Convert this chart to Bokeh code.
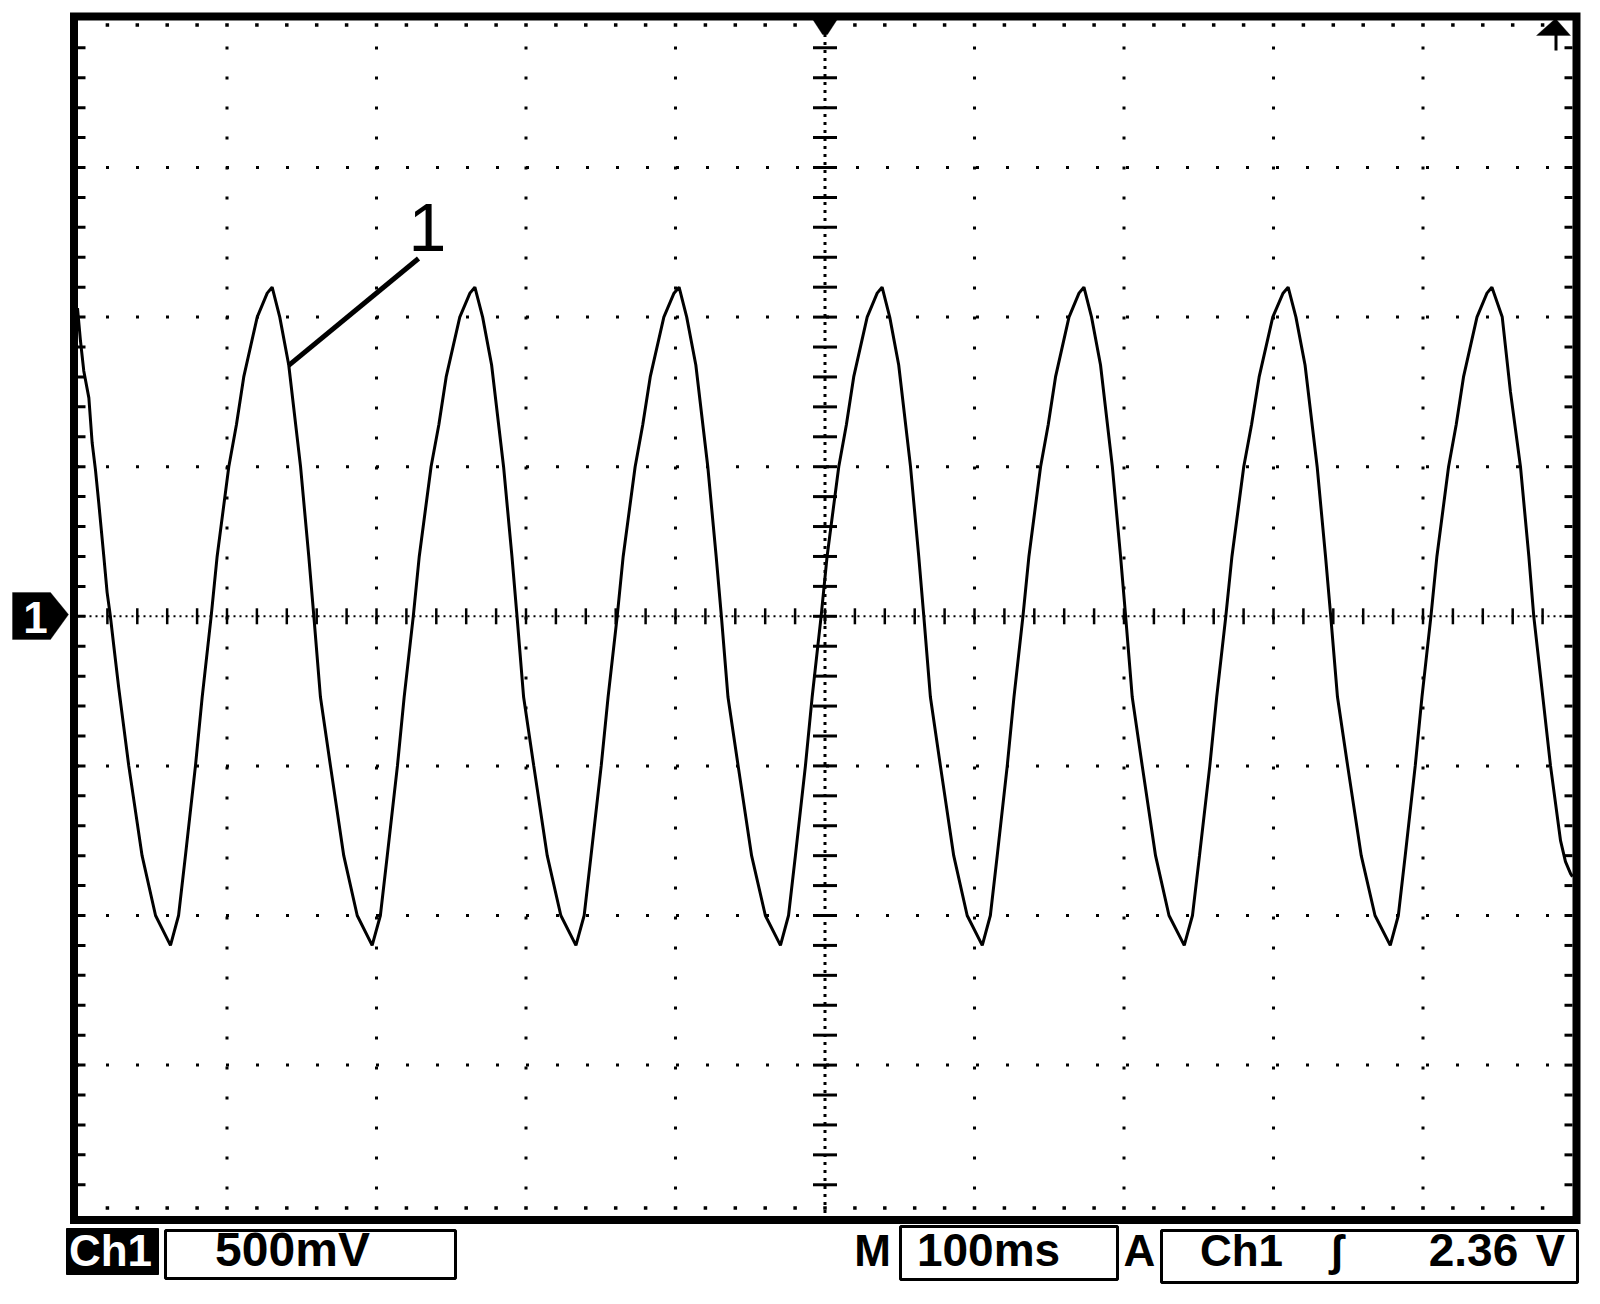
import numpy as np
from bokeh.plotting import figure
from bokeh.models import Range1d, Label, BoxAnnotation, PolyAnnotation
from bokeh.embed import file_html
from bokeh.resources import INLINE

# ---------------- data (read from the screen capture) ----------------
# time in ms (trigger at 0), voltage in V relative to the channel-1 ground marker
seg0_t = [-500.0, -498.0, -495.8, -492.4, -490.2, -488.0, -485.8, -482.4, -480.2, -478.0, -475.7, -472.4, -465.7, -456.8, -447.8]
seg0_v = [1.03, 0.92, 0.82, 0.73, 0.58, 0.49, 0.38, 0.20, 0.08, 0.00, -0.10, -0.24, -0.50, -0.80, -1.00]
c1_t = [-437.8, -432.4, -427.8, -421.1, -416.6, -410.6, -406.6, -398.8, -393.7, -388.8, -379.8, -373.1, -369.8, -364.7, -358.7, -350.8, -345.3, -341.9, -337.5, -330.8, -321.9, -312.9]
c1_v = [-1.10, -1.00, -0.80, -0.50, -0.27, 0.00, 0.20, 0.50, 0.64, 0.80, 1.00, 1.08, 1.10, 1.00, 0.84, 0.50, 0.20, 0.00, -0.27, -0.50, -0.80, -1.00]
c2_t = [-302.9, -297.4, -292.8, -286.0, -281.5, -275.4, -271.4, -263.5, -258.3, -253.4, -244.3, -237.5, -234.2, -229.0, -223.0, -215.0, -209.4, -206.0, -201.6, -194.8, -185.8, -176.7]
c2_v = [-1.10, -1.00, -0.80, -0.50, -0.27, 0.00, 0.20, 0.50, 0.64, 0.80, 1.00, 1.08, 1.10, 1.00, 0.84, 0.50, 0.20, 0.00, -0.27, -0.50, -0.80, -1.00]
c3_t = [-166.6, -161.1, -156.5, -149.7, -145.1, -139.0, -135.0, -127.0, -121.9, -116.9, -107.8, -101.0, -97.6, -92.5, -86.4, -78.4, -72.8, -69.3, -64.9, -58.1, -49.1, -39.9]
c3_v = [-1.10, -1.00, -0.80, -0.50, -0.27, 0.00, 0.20, 0.50, 0.64, 0.80, 1.00, 1.08, 1.10, 1.00, 0.84, 0.50, 0.20, 0.00, -0.27, -0.50, -0.80, -1.00]
c4_t = [-29.8, -24.4, -19.8, -13.1, -8.6, -2.6, 1.4, 9.2, 14.3, 19.2, 28.2, 34.9, 38.2, 43.3, 49.3, 57.2, 62.7, 66.1, 70.5, 77.2, 86.1, 95.1]
c4_v = [-1.10, -1.00, -0.80, -0.50, -0.27, 0.00, 0.20, 0.50, 0.64, 0.80, 1.00, 1.08, 1.10, 1.00, 0.84, 0.50, 0.20, 0.00, -0.27, -0.50, -0.80, -1.00]
c5_t = [105.2, 110.6, 115.2, 121.9, 126.4, 132.4, 136.4, 144.2, 149.3, 154.2, 163.2, 169.9, 173.2, 178.3, 184.3, 192.2, 197.7, 201.1, 205.5, 212.2, 221.1, 230.1]
c5_v = [-1.10, -1.00, -0.80, -0.50, -0.27, 0.00, 0.20, 0.50, 0.64, 0.80, 1.00, 1.08, 1.10, 1.00, 0.84, 0.50, 0.20, 0.00, -0.27, -0.50, -0.80, -1.00]
c6_t = [240.3, 245.8, 250.5, 257.4, 262.0, 268.1, 272.2, 280.1, 285.3, 290.4, 299.5, 306.4, 309.8, 315.0, 321.1, 329.2, 334.8, 338.3, 342.8, 349.6, 358.7, 367.9]
c6_v = [-1.10, -1.00, -0.80, -0.50, -0.27, 0.00, 0.20, 0.50, 0.64, 0.80, 1.00, 1.08, 1.10, 1.00, 0.84, 0.50, 0.20, 0.00, -0.27, -0.50, -0.80, -1.00]
c7_t = [378.1, 383.5, 388.1, 394.8, 399.3, 405.3, 409.3, 417.1, 422.2, 427.1, 436.1, 442.8, 446.1, 453.0, 458.5, 465.2, 470.8, 474.1, 478.6, 485.3, 492.0, 495.3, 498.7, 500.0]
c7_v = [-1.10, -1.00, -0.80, -0.50, -0.27, 0.00, 0.20, 0.50, 0.64, 0.80, 1.00, 1.08, 1.10, 1.00, 0.75, 0.50, 0.20, 0.00, -0.20, -0.50, -0.75, -0.82, -0.86, -0.87]

callout_t = [-358.9, -271.9]
callout_v = [0.838, 1.196]
callout_text = "1"

channel_label = "Ch1"
volts_per_div_label = "500mV"
timebase_prefix = "M"
timebase_label = "100ms"
trigger_prefix = "A"
trigger_source = "Ch1"
trigger_slope = "ʃ"
trigger_level_value = "2.36"
trigger_level_unit = "V"

DIV_MS = 100.0
DIV_V = 0.5
N_XDIV = 10
N_YDIV = 8
MINOR = 5

time_ms = seg0_t + c1_t + c2_t + c3_t + c4_t + c5_t + c6_t + c7_t
volts = seg0_v + c1_v + c2_v + c3_v + c4_v + c5_v + c6_v + c7_v

# ---------------- layout (pixels) ----------------
W, H = 1590, 1295
X0, PX_PER_MS = 824.5, 1.495      # pixel column of t = 0, pixels per ms
Y0, PX_PER_V = 615.8, 299.2       # pixel row of v = 0, pixels per volt
BLACK = "#000000"
FONT = "Liberation Sans"
BASELINE_SHIFT = 0.34             # label y correction, fraction of font size

def px_t(px):
    return (px - X0) / PX_PER_MS

def px_v(py):
    return (Y0 - py) / PX_PER_V

p = figure(width=W, height=H, output_backend="svg", toolbar_location=None,
           x_range=Range1d(px_t(0), px_t(W)), y_range=Range1d(px_v(H), px_v(0)),
           min_border=0, min_border_left=0, min_border_right=0, min_border_top=0, min_border_bottom=0,
           x_axis_type=None, y_axis_type=None)
p.background_fill_color = "white"
p.border_fill_color = "white"
p.outline_line_color = None

x_half = N_XDIV / 2 * DIV_MS
y_half = N_YDIV / 2 * DIV_V
x_major = np.arange(-x_half, x_half + 1e-9, DIV_MS)
y_major = np.arange(-y_half, y_half + 1e-9, DIV_V)
x_minor = np.arange(-x_half, x_half + 1e-9, DIV_MS / MINOR)
y_minor = np.arange(-y_half, y_half + 1e-9, DIV_V / MINOR)
gx = [t for t in x_major if 1e-9 < abs(t) < x_half]
gy = [v for v in y_major if 1e-9 < abs(v) < y_half]
mx = [t for t in x_minor if abs(t) < x_half]
my = [v for v in y_minor if abs(v) < y_half]

half_dot_t = 1.5 / PX_PER_MS
half_dot_v = 1.5 / PX_PER_V

# dotted graticule
p.segment(x0=gx, y0=[y_half + half_dot_v] * len(gx), x1=gx, y1=[-y_half] * len(gx),
          line_color=BLACK, line_width=3, line_dash="3 27")
p.segment(x0=[-x_half - half_dot_t] * len(gy), y0=gy, x1=[x_half] * len(gy), y1=gy,
          line_color=BLACK, line_width=3, line_dash="3 27")

# centre cross: finely dotted lines + tick marks
p.segment(x0=[-x_half], y0=[0], x1=[x_half], y1=[0], line_color=BLACK, line_width=2, line_dash="2 4")
p.segment(x0=[0], y0=[y_half], x1=[0], y1=[-y_half], line_color=BLACK, line_width=3, line_dash="3 5")
p.scatter(x=mx, y=[0] * len(mx), marker="dash", angle=np.pi / 2, size=16, line_color=BLACK, line_width=2.5)
p.scatter(x=[0] * len(my), y=my, marker="dash", size=24, line_color=BLACK, line_width=3)

# tick marks along the screen edges
p.scatter(x=[px_t(81)] * len(my), y=my, marker="dash", size=8, line_color=BLACK, line_width=3)
p.scatter(x=[px_t(1568)] * len(my), y=my, marker="dash", size=8, line_color=BLACK, line_width=3)
p.scatter(x=mx, y=[px_v(24.5)] * len(mx), marker="square", size=3.5, fill_color=BLACK, line_color=None)
p.scatter(x=mx, y=[px_v(1207.5)] * len(mx), marker="square", size=3.5, fill_color=BLACK, line_color=None)

# screen border
p.quad(left=[px_t(73.5)], right=[px_t(1576)], top=[px_v(16)], bottom=[px_v(1219.5)],
       fill_color=None, line_color=BLACK, line_width=8, line_join="miter")

# trace
p.line(time_ms, volts, line_color=BLACK, line_width=3)

# callout "1"
p.line(callout_t, callout_v, line_color=BLACK, line_width=5)
p.add_layout(Label(x=427, y=250 - BASELINE_SHIFT * 68, x_units="canvas", y_units="canvas", text=callout_text,
                   text_align="center", text_baseline="alphabetic", text_font=FONT,
                   text_font_size="68px", text_color=BLACK))

# trigger position marker (top centre)
p.add_layout(PolyAnnotation(xs=[809, 840, 827, 822], ys=[14, 14, 34, 34], xs_units="canvas", ys_units="canvas",
                            fill_color=BLACK, fill_alpha=1, line_color=BLACK, line_width=1))
# trigger level arrow (top right)
p.add_layout(PolyAnnotation(xs=[1536, 1570, 1555], ys=[35, 35, 18], xs_units="canvas", ys_units="canvas",
                            fill_color=BLACK, fill_alpha=1, line_color=BLACK, line_width=1))
p.add_layout(BoxAnnotation(left=1554, right=1557, top=34, bottom=50, left_units="canvas", right_units="canvas",
                           top_units="canvas", bottom_units="canvas", fill_color=BLACK, fill_alpha=1,
                           line_color=None))

# channel-1 ground marker (left)
p.add_layout(PolyAnnotation(xs=[12, 50, 68, 50, 12], ys=[592, 592, 614, 639, 639], xs_units="canvas",
                            ys_units="canvas", fill_color=BLACK, fill_alpha=1, line_color=BLACK, line_width=1))
p.add_layout(Label(x=35, y=632 - BASELINE_SHIFT * 44, x_units="canvas", y_units="canvas", text="1",
                   text_align="center", text_baseline="alphabetic", text_font=FONT, text_font_style="bold",
                   text_font_size="44px", text_color="white"))

# bottom readout
def box(l, r, t, b, fill, lw):
    return BoxAnnotation(left=l, right=r, top=t, bottom=b, left_units="canvas", right_units="canvas",
                         top_units="canvas", bottom_units="canvas", fill_color=fill, fill_alpha=1,
                         line_color=BLACK, line_width=lw, line_alpha=1)

p.add_layout(box(66, 158, 1228, 1274, BLACK, 1))
p.add_layout(box(165, 455, 1230, 1278, "white", 3))
p.add_layout(box(900, 1117, 1226, 1279, "white", 3))
p.add_layout(box(1161, 1577, 1230, 1282, "white", 3))

def txt(x, s, color=BLACK, align="center", size=44):
    return Label(x=x, y=1265 - BASELINE_SHIFT * size, x_units="canvas", y_units="canvas", text=s,
                 text_align=align, text_baseline="alphabetic", text_font=FONT, text_font_style="bold",
                 text_font_size=f"{size}px", text_color=color)

p.add_layout(txt(110, channel_label, color="white"))
p.add_layout(txt(292, volts_per_div_label, size=48))
p.add_layout(txt(872, timebase_prefix))
p.add_layout(txt(988, timebase_label, size=46))
p.add_layout(txt(1139, trigger_prefix))
p.add_layout(txt(1241, trigger_source))
p.add_layout(txt(1336, trigger_slope))
p.add_layout(txt(1473, trigger_level_value, size=46))
p.add_layout(txt(1550, trigger_level_unit))

open("out.html", "w").write(file_html(p, INLINE))
